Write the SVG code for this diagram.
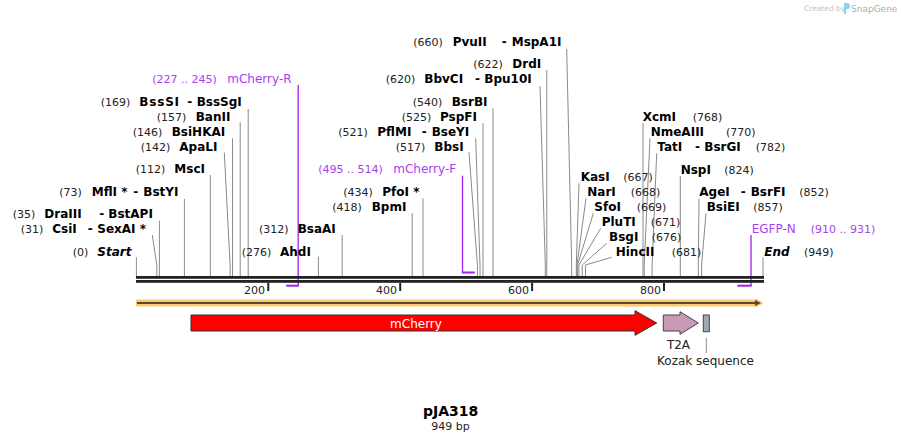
<svg xmlns="http://www.w3.org/2000/svg" width="901" height="442" viewBox="0 0 901 442">
<style>
text{font-family:"DejaVu Sans",Verdana,sans-serif}
.n{font-size:12px;font-weight:bold;fill:#000}
.bi{font-size:12px;font-weight:bold;font-style:italic;fill:#000}
.p{font-size:11px;fill:#222}
.pr{font-size:12px;fill:#a63ef2}
.prn{font-size:11px;fill:#a63ef2}
.c{stroke:#8a8a8a;stroke-width:1;fill:none}
.pl{stroke:#a020f0;fill:none}
.tk{stroke:#222;stroke-width:2}
.tl{font-size:11px;fill:#222;text-anchor:end}
.f{font-size:12px;fill:#222;text-anchor:middle}
</style>
<rect width="901" height="442" fill="#fff"/>
<g id="watermark">
<text x="804" y="11" style="font-size:7.5px;fill:#c4c4c4">Created by</text>
<path d="M844,3 h3 a3,3 0 0 1 0,6 h-1 v5 h-2 z" fill="#8fd0f2"/>
<text x="851" y="12" style="font-size:9px;fill:#b0b0b0">SnapGene</text>
</g>
<g id="connectors">
<path class="c" d="M136.4,257.3V276"/>
<path class="c" d="M152.3,235L156.8,265V276"/>
<path class="c" d="M159.4,220.7V276"/>
<path class="c" d="M184.4,199V276"/>
<path class="c" d="M210.3,175V276"/>
<path class="c" d="M224.3,152.7L230.1,265V276"/>
<path class="c" d="M232.5,138.3V276"/>
<path class="c" d="M240.2,122.3V276"/>
<path class="c" d="M248.2,109V276"/>
<path class="c" d="M318.4,256.7V276"/>
<path class="c" d="M342.2,235V276"/>
<path class="c" d="M412.2,213.3V276"/>
<path class="c" d="M423,198.3V276"/>
<path class="c" d="M469,152.3L477.4,265V276"/>
<path class="c" d="M475.7,138.3L480,265V276"/>
<path class="c" d="M483,123.3V276"/>
<path class="c" d="M493,108.3V276"/>
<path class="c" d="M540,86L545.3,265V276"/>
<path class="c" d="M546.8,70V276"/>
<path class="c" d="M566.7,49L571.7,265V276"/>
<path class="c" d="M579,183.3L576.3,265V276"/>
<path class="c" d="M586,198.3L577,265V276"/>
<path class="c" d="M593.3,213.3L577.6,265V276"/>
<path class="c" d="M600.7,228.3L578.9,265V276"/>
<path class="c" d="M606.7,243.3L582.2,265V276"/>
<path class="c" d="M611.7,257.3L585.5,265V276"/>
<path class="c" d="M643,123.3V276"/>
<path class="c" d="M650,138.3L644.2,265V276"/>
<path class="c" d="M656.7,153.3L652.1,265V276"/>
<path class="c" d="M680.3,176V276"/>
<path class="c" d="M699,198.7L698.3,265V276"/>
<path class="c" d="M706,213.3L701.6,265V276"/>
<path class="c" d="M763,257.3V276"/>
<path class="c" d="M706.3,338V353"/>
<path class="pl" stroke-width="1.3" d="M298.2,85V286"/>
<path class="pl" stroke-width="2" d="M286.2,285.7H298.8"/>
<path class="pl" stroke-width="1.3" d="M462.5,175.7V273"/>
<path class="pl" stroke-width="2" d="M461.9,272.5H474.8"/>
<path class="pl" stroke-width="1.3" d="M751,235V286"/>
<path class="pl" stroke-width="2" d="M737.3,285.7H751.6"/>
</g>
<g id="backbone">
<rect x="136" y="276" width="628" height="2.8" fill="#222"/>
<rect x="136" y="280" width="628" height="2.8" fill="#222"/>
<line class="tk" x1="268.3" y1="283" x2="268.3" y2="291"/>
<line class="tk" x1="400.2" y1="283" x2="400.2" y2="291"/>
<line class="tk" x1="532.1" y1="283" x2="532.1" y2="291"/>
<line class="tk" x1="664" y1="283" x2="664" y2="291"/>
<text class="tl" x="265" y="293.5">200</text>
<text class="tl" x="397" y="293.5">400</text>
<text class="tl" x="529" y="293.5">600</text>
<text class="tl" x="661" y="293.5">800</text>
</g>
<g id="orf">
<path d="M136,299.5H756V298.5L763.5,303L756,307.5V306.5H136Z" fill="#fcc870"/>
<line x1="137" y1="303" x2="756" y2="303" stroke="#5a4a30" stroke-width="2"/>
<path d="M755,300L761,303L755,306Z" fill="#5a4a30"/>
</g>
<g id="mCherry">
<path d="M191,315H635V310.7L656.7,323L635,335.3V331H191Z" fill="#ff0000" stroke="#333" stroke-width="1"/>
<text x="416" y="327.5" style="font-size:12px;fill:#fff;text-anchor:middle">mCherry</text>
</g>
<g id="T2A">
<path d="M663.3,315H680V311.7L698.3,323L680,334.3V331H663.3Z" fill="#c999b5" stroke="#444" stroke-width="1"/>
<text class="f" x="678.5" y="348.5">T2A</text>
</g>
<g id="Kozak">
<rect x="703.3" y="315" width="6" height="16.7" fill="#a1a9b1" stroke="#444" stroke-width="1"/>
<text class="f" x="705.5" y="364.5">Kozak sequence</text>
</g>
<g id="title">
<text x="450.7" y="416" style="font-size:14px;font-weight:bold;fill:#000;text-anchor:middle">pJA318</text>
<text x="450.5" y="430" style="font-size:11px;fill:#222;text-anchor:middle">949 bp</text>
</g>
<g id="mCherry-R"><text class="prn" x="152.3" y="83">(227 .. 245)</text><text class="pr" x="227.3" y="83">mCherry-R</text></g>
<g id="BssSI"><text class="p" x="100.7" y="106">(169)</text><text class="n" x="139.3" y="106" letter-spacing="0.8">BssSI</text><text class="n" x="187.3" y="106">-</text><text class="n" x="196.7" y="106">BssSgI</text></g>
<g id="BanII"><text class="p" x="156.7" y="121">(157)</text><text class="n" x="195.7" y="121">BanII</text></g>
<g id="BsiHKAI"><text class="p" x="132.7" y="136">(146)</text><text class="n" x="171.7" y="136">BsiHKAI</text></g>
<g id="ApaLI"><text class="p" x="140.7" y="151">(142)</text><text class="n" x="179.3" y="151">ApaLI</text></g>
<g id="MscI"><text class="p" x="135.7" y="173">(112)</text><text class="n" x="174.3" y="173">MscI</text></g>
<g id="MflI"><text class="p" x="59.3" y="195.5">(73)</text><text class="n" x="91.7" y="195.5">MflI *</text><text class="n" x="133.3" y="195.5">-</text><text class="n" x="143.3" y="195.5">BstYI</text></g>
<g id="DraIII"><text class="p" x="12.7" y="217.5">(35)</text><text class="n" x="44.3" y="217.5">DraIII</text><text class="n" x="99.3" y="217.5">-</text><text class="n" x="108.3" y="217.5">BstAPI</text></g>
<g id="CsiI"><text class="p" x="20.7" y="232.5">(31)</text><text class="n" x="52.3" y="232.5">CsiI</text><text class="n" x="87.7" y="232.5">-</text><text class="n" x="97.3" y="232.5">SexAI *</text></g>
<g id="Start"><text class="p" x="72.7" y="256">(0)</text><text class="bi" x="97.3" y="256">Start</text></g>
<g id="BsaAI"><text class="p" x="259" y="232.5">(312)</text><text class="n" x="297.7" y="232.5">BsaAI</text></g>
<g id="AhdI"><text class="p" x="241.7" y="256">(276)</text><text class="n" x="280" y="256">AhdI</text></g>
<g id="PvuII"><text class="p" x="413.3" y="46">(660)</text><text class="n" x="452.7" y="46">PvuII</text><text class="n" x="501.7" y="46">-</text><text class="n" x="511.7" y="46">MspA1I</text></g>
<g id="DrdI"><text class="p" x="473.3" y="67.5">(622)</text><text class="n" x="512.3" y="67.5">DrdI</text></g>
<g id="BbvCI"><text class="p" x="385.7" y="83">(620)</text><text class="n" x="424.3" y="83">BbvCI</text><text class="n" x="475" y="83">-</text><text class="n" x="484.3" y="83">Bpu10I</text></g>
<g id="BsrBI"><text class="p" x="412.7" y="106">(540)</text><text class="n" x="451.7" y="106">BsrBI</text></g>
<g id="PspFI"><text class="p" x="401.7" y="121">(525)</text><text class="n" x="440" y="121">PspFI</text></g>
<g id="PflMI"><text class="p" x="338.3" y="136">(521)</text><text class="n" x="377.3" y="136">PflMI</text><text class="n" x="421.7" y="136">-</text><text class="n" x="431.7" y="136">BseYI</text></g>
<g id="BbsI"><text class="p" x="395.7" y="151">(517)</text><text class="n" x="434.3" y="151">BbsI</text></g>
<g id="mCherry-F"><text class="prn" x="318.3" y="173">(495 .. 514)</text><text class="pr" x="393.3" y="173">mCherry-F</text></g>
<g id="PfoI"><text class="p" x="343.3" y="196">(434)</text><text class="n" x="382.3" y="196">PfoI *</text></g>
<g id="BpmI"><text class="p" x="332.3" y="211">(418)</text><text class="n" x="371.7" y="211">BpmI</text></g>
<g id="XcmI"><text class="n" x="642.7" y="121">XcmI</text><text class="p" x="692.7" y="121">(768)</text></g>
<g id="NmeAIII"><text class="n" x="650.7" y="136">NmeAIII</text><text class="p" x="726" y="136">(770)</text></g>
<g id="TatI"><text class="n" x="657.3" y="151">TatI</text><text class="n" x="695" y="151">-</text><text class="n" x="704.3" y="151">BsrGI</text><text class="p" x="755.7" y="151">(782)</text></g>
<g id="NspI"><text class="n" x="680.7" y="173.5">NspI</text><text class="p" x="724.3" y="173.5">(824)</text></g>
<g id="KasI"><text class="n" x="580.7" y="181">KasI</text><text class="p" x="623.3" y="181">(667)</text></g>
<g id="AgeI"><text class="n" x="699.3" y="196">AgeI</text><text class="n" x="740.7" y="196">-</text><text class="n" x="750.7" y="196">BsrFI</text><text class="p" x="799.3" y="196">(852)</text></g>
<g id="NarI"><text class="n" x="587.3" y="196">NarI</text><text class="p" x="630.7" y="196">(668)</text></g>
<g id="SfoI"><text class="n" x="594.3" y="211">SfoI</text><text class="p" x="636.7" y="211">(669)</text></g>
<g id="BsiEI"><text class="n" x="706.7" y="211">BsiEI</text><text class="p" x="753.3" y="211">(857)</text></g>
<g id="PluTI"><text class="n" x="601.7" y="226">PluTI</text><text class="p" x="650.7" y="226">(671)</text></g>
<g id="EGFP-N"><text class="pr" x="751.7" y="232.5">EGFP-N</text><text class="prn" x="810.7" y="232.5">(910 .. 931)</text></g>
<g id="BsgI"><text class="n" x="609" y="241">BsgI</text><text class="p" x="651.7" y="241">(676)</text></g>
<g id="HincII"><text class="n" x="615.7" y="256">HincII</text><text class="p" x="671.7" y="256">(681)</text></g>
<g id="End"><text class="bi" x="764.3" y="256">End</text><text class="p" x="804" y="256">(949)</text></g>
</svg>
